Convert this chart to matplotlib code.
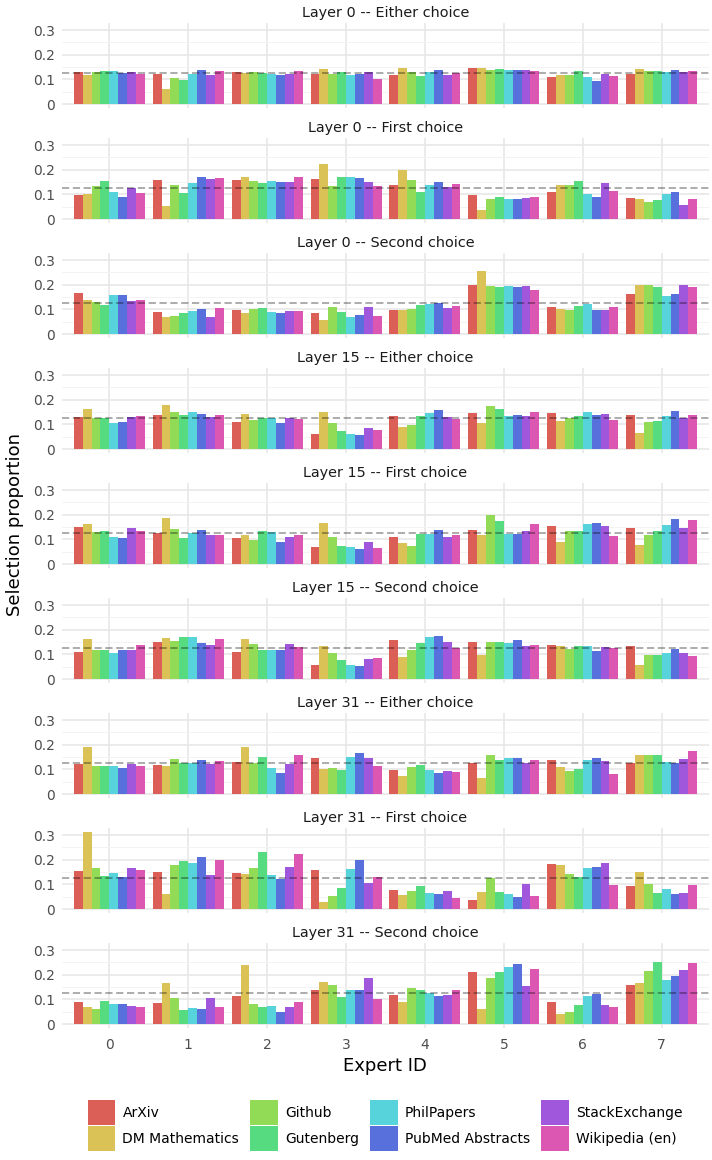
import numpy as np
import matplotlib
matplotlib.use("Agg")
import matplotlib.pyplot as plt
from matplotlib.patches import Patch

datasets = ["ArXiv", "DM Mathematics", "Github", "Gutenberg",
            "PhilPapers", "PubMed Abstracts", "StackExchange", "Wikipedia (en)"]
colors = ["#db5f57", "#dbc257", "#91db57", "#57db80",
          "#57d3db", "#5770db", "#a157db", "#db57b2"]
experts = [0, 1, 2, 3, 4, 5, 6, 7]
titles = ["Layer 0 -- Either choice", "Layer 0 -- First choice", "Layer 0 -- Second choice",
          "Layer 15 -- Either choice", "Layer 15 -- First choice", "Layer 15 -- Second choice",
          "Layer 31 -- Either choice", "Layer 31 -- First choice", "Layer 31 -- Second choice"]

# one row per expert, one column per dataset
l0_either = [
    [0.130, 0.117, 0.130, 0.134, 0.134, 0.126, 0.130, 0.121],
    [0.121, 0.060, 0.105, 0.097, 0.121, 0.138, 0.117, 0.134],
    [0.130, 0.126, 0.130, 0.126, 0.121, 0.117, 0.121, 0.134],
    [0.121, 0.142, 0.121, 0.130, 0.117, 0.121, 0.130, 0.101],
    [0.117, 0.146, 0.130, 0.113, 0.130, 0.138, 0.117, 0.126],
    [0.146, 0.146, 0.138, 0.142, 0.138, 0.138, 0.138, 0.134],
    [0.109, 0.117, 0.117, 0.134, 0.109, 0.093, 0.121, 0.113],
    [0.121, 0.142, 0.134, 0.134, 0.130, 0.138, 0.130, 0.134],
]
l0_first = [
    [0.097, 0.101, 0.134, 0.154, 0.109, 0.089, 0.126, 0.105],
    [0.158, 0.052, 0.138, 0.105, 0.146, 0.171, 0.162, 0.166],
    [0.158, 0.171, 0.154, 0.146, 0.154, 0.150, 0.150, 0.171],
    [0.162, 0.224, 0.134, 0.171, 0.171, 0.166, 0.150, 0.134],
    [0.138, 0.199, 0.158, 0.109, 0.138, 0.150, 0.130, 0.142],
    [0.097, 0.035, 0.080, 0.089, 0.080, 0.080, 0.085, 0.089],
    [0.109, 0.138, 0.138, 0.154, 0.101, 0.089, 0.146, 0.113],
    [0.085, 0.080, 0.068, 0.076, 0.101, 0.109, 0.056, 0.080],
]
l0_second = [
    [0.166, 0.138, 0.130, 0.117, 0.158, 0.158, 0.134, 0.138],
    [0.089, 0.068, 0.072, 0.085, 0.093, 0.101, 0.068, 0.105],
    [0.097, 0.085, 0.101, 0.105, 0.089, 0.085, 0.093, 0.093],
    [0.085, 0.056, 0.109, 0.089, 0.068, 0.076, 0.109, 0.072],
    [0.097, 0.097, 0.101, 0.117, 0.121, 0.126, 0.105, 0.113],
    [0.199, 0.256, 0.195, 0.191, 0.195, 0.191, 0.195, 0.179],
    [0.109, 0.101, 0.097, 0.113, 0.121, 0.097, 0.097, 0.109],
    [0.162, 0.199, 0.199, 0.191, 0.154, 0.162, 0.199, 0.191],
]
l15_either = [
    [0.130, 0.162, 0.126, 0.126, 0.105, 0.109, 0.130, 0.134],
    [0.138, 0.179, 0.150, 0.138, 0.150, 0.142, 0.130, 0.138],
    [0.109, 0.142, 0.117, 0.126, 0.126, 0.105, 0.126, 0.121],
    [0.060, 0.150, 0.105, 0.072, 0.060, 0.056, 0.085, 0.076],
    [0.134, 0.089, 0.097, 0.134, 0.146, 0.158, 0.130, 0.121],
    [0.146, 0.105, 0.175, 0.162, 0.134, 0.138, 0.134, 0.150],
    [0.146, 0.113, 0.126, 0.134, 0.150, 0.138, 0.142, 0.117],
    [0.138, 0.064, 0.109, 0.113, 0.134, 0.154, 0.126, 0.138],
]
l15_first = [
    [0.150, 0.162, 0.130, 0.134, 0.109, 0.105, 0.146, 0.134],
    [0.126, 0.187, 0.142, 0.105, 0.126, 0.138, 0.117, 0.117],
    [0.105, 0.117, 0.097, 0.134, 0.130, 0.089, 0.109, 0.117],
    [0.068, 0.166, 0.109, 0.072, 0.068, 0.060, 0.089, 0.064],
    [0.109, 0.085, 0.072, 0.121, 0.121, 0.138, 0.109, 0.117],
    [0.138, 0.117, 0.199, 0.175, 0.121, 0.121, 0.134, 0.162],
    [0.154, 0.089, 0.134, 0.134, 0.162, 0.166, 0.154, 0.113],
    [0.146, 0.076, 0.117, 0.134, 0.158, 0.183, 0.146, 0.179],
]
l15_second = [
    [0.109, 0.162, 0.117, 0.117, 0.105, 0.117, 0.117, 0.138],
    [0.150, 0.166, 0.154, 0.171, 0.171, 0.146, 0.138, 0.162],
    [0.109, 0.162, 0.142, 0.117, 0.117, 0.117, 0.142, 0.130],
    [0.056, 0.134, 0.105, 0.076, 0.056, 0.052, 0.080, 0.085],
    [0.158, 0.089, 0.117, 0.146, 0.171, 0.175, 0.150, 0.126],
    [0.150, 0.097, 0.150, 0.150, 0.146, 0.158, 0.134, 0.138],
    [0.138, 0.134, 0.121, 0.134, 0.134, 0.113, 0.130, 0.126],
    [0.134, 0.056, 0.097, 0.097, 0.105, 0.121, 0.105, 0.093],
]
l31_either = [
    [0.121, 0.191, 0.113, 0.113, 0.113, 0.105, 0.121, 0.113],
    [0.117, 0.113, 0.142, 0.126, 0.126, 0.138, 0.121, 0.134],
    [0.130, 0.191, 0.126, 0.150, 0.105, 0.085, 0.121, 0.158],
    [0.146, 0.101, 0.105, 0.097, 0.150, 0.166, 0.146, 0.113],
    [0.097, 0.072, 0.109, 0.117, 0.097, 0.085, 0.093, 0.089],
    [0.126, 0.064, 0.158, 0.138, 0.146, 0.146, 0.126, 0.138],
    [0.138, 0.109, 0.093, 0.101, 0.138, 0.146, 0.134, 0.080],
    [0.126, 0.158, 0.158, 0.158, 0.130, 0.126, 0.142, 0.175],
]
l31_first = [
    [0.154, 0.314, 0.166, 0.134, 0.146, 0.130, 0.166, 0.158],
    [0.150, 0.060, 0.179, 0.195, 0.187, 0.211, 0.138, 0.199],
    [0.146, 0.142, 0.166, 0.232, 0.138, 0.121, 0.171, 0.224],
    [0.158, 0.027, 0.052, 0.085, 0.162, 0.199, 0.105, 0.130],
    [0.076, 0.056, 0.072, 0.093, 0.064, 0.060, 0.072, 0.044],
    [0.035, 0.068, 0.126, 0.068, 0.060, 0.048, 0.101, 0.052],
    [0.183, 0.179, 0.142, 0.130, 0.166, 0.171, 0.187, 0.097],
    [0.093, 0.150, 0.101, 0.064, 0.080, 0.060, 0.064, 0.097],
]
l31_second = [
    [0.089, 0.068, 0.060, 0.093, 0.080, 0.080, 0.072, 0.068],
    [0.085, 0.166, 0.105, 0.056, 0.064, 0.060, 0.105, 0.068],
    [0.113, 0.240, 0.080, 0.068, 0.072, 0.048, 0.068, 0.089],
    [0.138, 0.171, 0.158, 0.109, 0.138, 0.138, 0.187, 0.101],
    [0.117, 0.089, 0.146, 0.138, 0.126, 0.113, 0.117, 0.138],
    [0.211, 0.060, 0.187, 0.211, 0.232, 0.244, 0.154, 0.224],
    [0.089, 0.040, 0.048, 0.076, 0.113, 0.121, 0.076, 0.068],
    [0.158, 0.166, 0.216, 0.252, 0.179, 0.195, 0.220, 0.248],
]
panels = [l0_either, l0_first, l0_second,
          l15_either, l15_first, l15_second,
          l31_either, l31_first, l31_second]

W, H = 712, 1160
fig = plt.figure(figsize=(W / 100, H / 100), dpi=100)
bar_w = 0.9 / len(datasets)

for k, (title, vals) in enumerate(zip(titles, panels)):
    top = 22.6 + 115 * k
    bot = 107.9 + 115 * k
    ax = fig.add_axes([62 / W, 1 - bot / H, (709 - 62) / W, (bot - top) / H])
    vals = np.array(vals)
    for j, name in enumerate(datasets):
        xs = np.array(experts) - 0.45 + bar_w * (j + 0.5)
        ax.bar(xs, vals[:, j], width=bar_w, color=colors[j], linewidth=0, zorder=2)
    ax.axhline(0.125, color="black", alpha=0.35, ls=(0, (4, 2)), lw=1.3, zorder=3)

    ax.set_xlim(-0.6, 7.6)
    ax.set_ylim(-0.0157, 0.33)
    ax.set_yticks([0, 0.1, 0.2, 0.3])
    ax.set_yticklabels(["0", "0.1", "0.2", "0.3"])
    ax.set_yticks([0.05, 0.15, 0.25], minor=True)
    ax.set_xticks(experts)
    ax.grid(which="major", color="#e6e6e6", lw=1.1, zorder=0)
    ax.grid(which="minor", axis="y", color="#f3f3f3", lw=0.7, zorder=0)
    ax.set_axisbelow(True)
    for s in ax.spines.values():
        s.set_visible(False)
    ax.tick_params(which="both", length=0, labelsize=10, labelcolor="#4d4d4d")
    ax.tick_params(axis="y", pad=5)
    ax.tick_params(axis="x", pad=7)
    if k < len(panels) - 1:
        ax.set_xticklabels([])
    ax.set_title(title, fontsize=10.4, color="#1a1a1a", pad=4)

fig.text(15 / W, 1 - 525 / H, "Selection proportion", rotation=90,
         ha="center", va="center", fontsize=13)
fig.text(385 / W, 1 - 1066 / H, "Expert ID", ha="center", va="center", fontsize=13)

handles = [Patch(facecolor=c, edgecolor="none", label=d) for c, d in zip(colors, datasets)]
fig.legend(handles=handles, ncol=4, loc="center", bbox_to_anchor=(385 / W, 1 - 1125.5 / H),
           frameon=False, fontsize=10, handlelength=2.0, handleheight=2.4,
           labelspacing=0.1, columnspacing=0.8, handletextpad=0.5)

fig.savefig("out.png", dpi=100)
